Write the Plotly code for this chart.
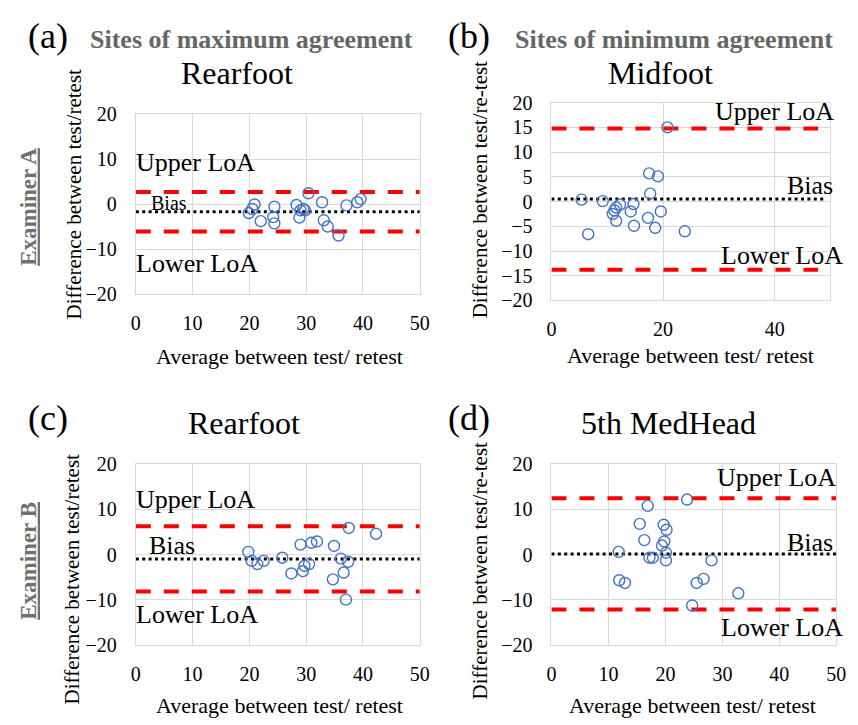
import plotly.graph_objects as go

# ---------------- data ----------------
a_x = [19.9, 20.5, 20.9, 22.0, 24.2, 24.4, 24.4, 28.3, 28.8, 29.0, 29.5, 29.8, 30.4, 32.8, 33.1, 33.8, 35.7, 37.1, 39.0, 39.6]
a_y = [-2.0, -1.1, -0.1, -3.8, -2.9, -0.6, -4.3, -0.2, -3.0, -1.4, -1.1, -1.4, 2.4, 0.4, -3.6, -5.0, -7.0, -0.3, 0.4, 1.1]
a_bias, a_upper, a_lower = -1.7, 2.7, -6.1

b_x = [5.4, 6.6, 9.2, 11.0, 11.3, 11.6, 11.6, 12.3, 14.2, 14.7, 14.8, 17.3, 17.5, 17.7, 18.6, 19.1, 19.6, 20.8, 23.9]
b_y = [0.4, -6.6, 0.1, -2.5, -1.8, -3.9, -1.2, -0.6, -2.0, -0.5, -4.9, -3.3, 5.7, 1.6, -5.3, 5.1, -2.0, 15.0, -6.0]
b_bias, b_upper, b_lower = 0.5, 14.8, -13.8

c_x = [19.8, 20.4, 21.4, 22.5, 25.8, 27.4, 29.0, 29.4, 29.7, 30.5, 30.9, 31.9, 34.7, 34.9, 36.1, 36.6, 37.0, 37.4, 37.5, 42.3]
c_y = [0.6, -1.4, -2.1, -1.4, -0.7, -4.2, 2.2, -3.7, -2.5, -2.1, 2.6, 2.9, -5.5, 1.9, -0.9, -4.0, -10.0, -1.6, 5.9, 4.6]
c_bias, c_upper, c_lower = -1.0, 6.3, -8.2

d_x = [11.8, 11.9, 12.9, 15.5, 16.3, 16.9, 17.2, 17.8, 19.4, 19.7, 19.8, 20.1, 20.1, 20.2, 23.8, 24.7, 25.5, 26.7, 28.1, 32.8]
d_y = [0.6, -5.7, -6.3, 6.8, 3.2, 10.8, -0.7, -0.7, 2.0, 6.6, 2.9, 0.4, -1.3, 5.5, 12.2, -11.3, -6.3, -5.4, -1.3, -8.6]
d_bias, d_upper, d_lower = 0.1, 12.5, -12.2

panel_letters = ["(a)", "(b)", "(c)", "(d)"]
panel_titles = ["Rearfoot", "Midfoot", "Rearfoot", "5th MedHead"]
group_titles = ["Sites of maximum agreement", "Sites of minimum agreement"]
examiners = ["Examiner A", "Examiner B"]
y_titles = ["Difference between test/retest", "Difference between test/re-test",
            "Difference between test/retest", "Difference between test/re-test"]
x_title = "Average between test/ retest"
loa_labels = ["Upper LoA", "Bias", "Lower LoA"]

# ---------------- layout ----------------
W, H = 858, 725
OFF = 8  # page body margin of the html page
FONT = "Liberation Serif, Times New Roman, serif"
BLUE = "#4472c4"
RED = "#ff0000"
GRID = "#d9d9d9"

def px(x):
    return (x - OFF) / W

def py(y):
    return 1 - (y - OFF) / H

panels = [
    dict(x=a_x, y=a_y, bias=a_bias, up=a_upper, lo=a_lower, xd=[133, 422], yd=[106, 291.7], xdt=10, ydt=10, lend=50, bend=50),
    dict(x=b_x, y=b_y, bias=b_bias, up=b_upper, lo=b_lower, xd=[556, 840], yd=[94.3, 298.3], xdt=20, ydt=5, lend=47.8, bend=48.8),
    dict(x=c_x, y=c_y, bias=c_bias, up=c_upper, lo=c_lower, xd=[133, 422], yd=[467.3, 653.3], xdt=10, ydt=10, lend=50, bend=50),
    dict(x=d_x, y=d_y, bias=d_bias, up=d_upper, lo=d_lower, xd=[556, 846], yd=[467.3, 653.3], xdt=10, ydt=10, lend=50, bend=50),
]

fig = go.Figure()
layout = dict(width=W, height=H, autosize=False, margin=dict(l=0, r=0, t=0, b=0, pad=0),
              paper_bgcolor="white", plot_bgcolor="white", showlegend=False,
              font=dict(family=FONT, color="black"))

annotations = []
for i, p in enumerate(panels):
    n = i + 1
    xa = "x" if n == 1 else f"x{n}"
    ya = "y" if n == 1 else f"y{n}"
    xkey = "xaxis" if n == 1 else f"xaxis{n}"
    ykey = "yaxis" if n == 1 else f"yaxis{n}"
    layout[xkey] = dict(domain=[px(p["xd"][0]), px(p["xd"][1])], anchor=ya, range=[0, 50],
                        dtick=p["xdt"], tick0=0, showgrid=True, gridcolor=GRID, gridwidth=1,
                        showline=True, linecolor=GRID, mirror=True, zeroline=False,
                        ticks="outside", ticklen=11, tickcolor="rgba(0,0,0,0)",
                        tickfont=dict(size=20, family=FONT, color="black"))
    layout[ykey] = dict(domain=[py(p["yd"][1]), py(p["yd"][0])], anchor=xa, range=[-20, 20],
                        dtick=p["ydt"], tick0=0, showgrid=True, gridcolor=GRID, gridwidth=1,
                        showline=True, linecolor=GRID, mirror=True, zeroline=False,
                        ticks="outside", ticklen=14, tickcolor="rgba(0,0,0,0)",
                        tickfont=dict(size=20, family=FONT, color="black"))
    for val in (p["up"], p["lo"]):
        fig.add_trace(go.Scatter(x=[0, p["lend"]], y=[val, val], mode="lines", xaxis=xa, yaxis=ya,
                                 line=dict(color=RED, width=4, dash="15px,13px"), hoverinfo="skip"))
    fig.add_trace(go.Scatter(x=[0, p["bend"]], y=[p["bias"], p["bias"]], mode="lines",
                             xaxis=xa, yaxis=ya,
                             line=dict(color="black", width=3, dash="3px,3.4px"), hoverinfo="skip"))
    fig.add_trace(go.Scatter(x=p["x"], y=p["y"], mode="markers", xaxis=xa, yaxis=ya,
                             marker=dict(symbol="circle-open", size=11, color=BLUE,
                                         line=dict(color=BLUE, width=1.4))))

# in-plot labels: x in page pixels, y in data units of each panel
label_specs = [
    ("y", 132, 9.3, "left", 26, loa_labels[0]),
    ("y", 147, 0.3, "left", 20, loa_labels[1]),
    ("y", 132, -13.3, "left", 26, loa_labels[2]),
    ("y2", 845, 18.2, "right", 26, loa_labels[0]),
    ("y2", 844, 3.3, "right", 26, loa_labels[1]),
    ("y2", 854, -10.9, "right", 26, loa_labels[2]),
    ("y3", 132, 12.3, "left", 26, loa_labels[0]),
    ("y3", 145, 2.1, "left", 26, loa_labels[1]),
    ("y3", 132, -13.2, "left", 26, loa_labels[2]),
    ("y4", 847, 17.0, "right", 26, loa_labels[0]),
    ("y4", 844, 2.7, "right", 26, loa_labels[1]),
    ("y4", 854, -16.1, "right", 26, loa_labels[2]),
]
for yr, xpix, yv, anc, fs, txt in label_specs:
    annotations.append(dict(xref="paper", yref=yr, x=px(xpix), y=yv, text=txt, showarrow=False,
                            xanchor=anc, yanchor="middle", borderpad=0,
                            font=dict(size=fs, family=FONT, color="black")))

def paper_text(x, y, text, size, color="black", angle=0):
    annotations.append(dict(xref="paper", yref="paper", x=px(x), y=py(y), text=text, showarrow=False,
                            xanchor="center", yanchor="middle", textangle=angle, borderpad=0,
                            font=dict(size=size, family=FONT, color=color)))

paper_text(44, 26, panel_letters[0], 36)
paper_text(472, 26, panel_letters[1], 36)
paper_text(44, 419, panel_letters[2], 36)
paper_text(472, 419, panel_letters[3], 36)
paper_text(251, 29, f"<b>{group_titles[0]}</b>", 26, color="#666666")
paper_text(681, 29, f"<b>{group_titles[1]}</b>", 26, color="#666666")
paper_text(236, 64, panel_titles[0], 32)
paper_text(667, 64, panel_titles[1], 32)
paper_text(243, 425, panel_titles[2], 32)
paper_text(675, 425, panel_titles[3], 32)

paper_text(23, 202, f"<b><u>{examiners[0]}</u></b>", 23, color="#707070", angle=-90)
paper_text(23, 567, f"<b><u>{examiners[1]}</u></b>", 23, color="#707070", angle=-90)

paper_text(70, 189, y_titles[0], 21, angle=-90)
paper_text(483, 184, y_titles[1], 21, angle=-90)
paper_text(69, 586, y_titles[2], 21, angle=-90)
paper_text(483, 577, y_titles[3], 21, angle=-90)

paper_text(279, 356, x_title, 22)
paper_text(698, 355, x_title, 22)
paper_text(279, 716, x_title, 22)
paper_text(700, 716, x_title, 22)

layout["annotations"] = annotations
fig.update_layout(**layout)
fig.write_html("out.html")
